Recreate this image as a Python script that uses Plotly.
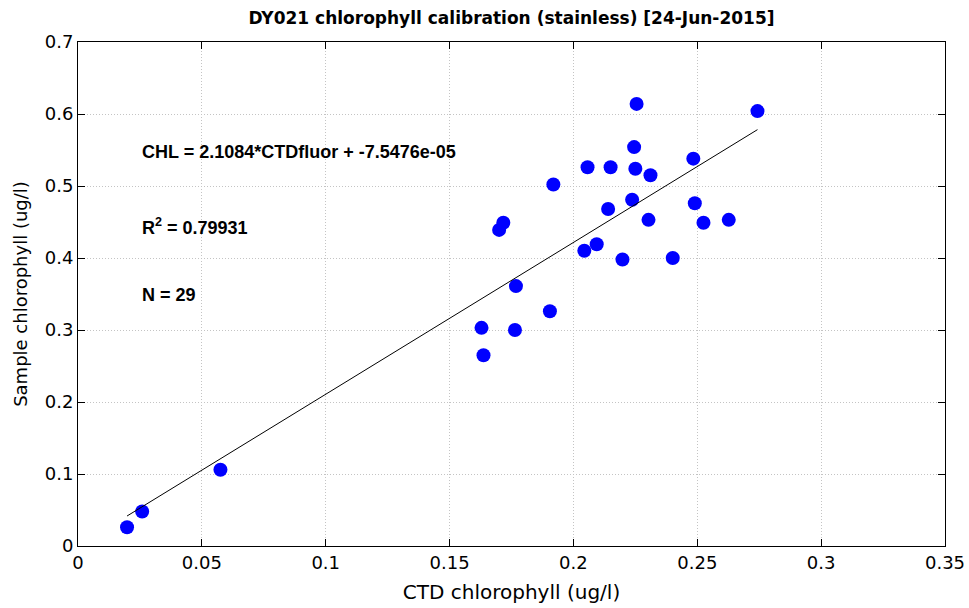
import plotly.graph_objects as go

ctd_chl = [0.2255, 0.2743, 0.2245, 0.2484, 0.2057, 0.2150, 0.2250, 0.2311, 0.1919,
           0.2237, 0.2140, 0.2490, 0.1717, 0.1700, 0.2303, 0.2525, 0.2627, 0.2044,
           0.2094, 0.2198, 0.2401, 0.1768, 0.1905, 0.1629, 0.1764, 0.1637, 0.0575,
           0.0259, 0.0198]
sample_chl = [0.614, 0.604, 0.554, 0.538, 0.526, 0.526, 0.524, 0.515, 0.502,
              0.481, 0.468, 0.476, 0.449, 0.439, 0.453, 0.449, 0.453, 0.410,
              0.419, 0.398, 0.400, 0.361, 0.326, 0.303, 0.300, 0.265, 0.106,
              0.048, 0.026]
slope = 2.1084
intercept = -7.5476e-05
r2 = 0.79931

xfit = [min(ctd_chl), max(ctd_chl)]
yfit = [slope * v + intercept for v in xfit]

font = "DejaVu Sans, Arial, sans-serif"
afont = "Liberation Sans, Arial, sans-serif"

fig = go.Figure()
fig.add_trace(go.Scatter(x=ctd_chl, y=sample_chl, mode="markers",
                         marker=dict(color="#0000FF", size=14, line=dict(width=0)),
                         showlegend=False))
fig.add_trace(go.Scatter(x=xfit, y=yfit, mode="lines",
                         line=dict(color="black", width=1), showlegend=False))

ann = [("CHL = 2.1084*CTDfluor + -7.5476e-05", 0.547),
       ("R<sup>2</sup> = %.5f" % r2, 0.444),
       ("N = %d" % len(ctd_chl), 0.349)]
for t, yv in ann:
    fig.add_annotation(x=0.025, y=yv, text="<b>" + t + "</b>", showarrow=False,
                       xanchor="left", yanchor="middle",
                       font=dict(family=afont, size=18, color="black"))

axis_common = dict(showline=True, linecolor="black", linewidth=1, mirror="allticks",
                   ticks="inside", ticklen=7, tickcolor="black",
                   showgrid=True, gridcolor="#C4C4C4", griddash="1px,2px", gridwidth=1,
                   zeroline=False, automargin=False,
                   tickfont=dict(family=font, size=18, color="black"))

fig.update_xaxes(range=[0, 0.35], tickvals=[0, 0.05, 0.1, 0.15, 0.2, 0.25, 0.3, 0.35],
                 ticktext=["0", "0.05", "0.1", "0.15", "0.2", "0.25", "0.3", "0.35"],
                 title=dict(text="CTD chlorophyll (ug/l)", font=dict(family=font, size=20, color="black"),
                            standoff=13),
                 **axis_common)
fig.update_yaxes(range=[0, 0.7], tickvals=[0, 0.1, 0.2, 0.3, 0.4, 0.5, 0.6, 0.7],
                 ticktext=["0", "0.1", "0.2", "0.3", "0.4", "0.5", "0.6", "0.7"],
                 title=dict(text="Sample chlorophyll (ug/l)", font=dict(family=font, size=18, color="black"),
                            standoff=12),
                 **axis_common)

fig.update_layout(width=969, height=608,
                  margin=dict(l=78, r=24, t=42, b=62),
                  paper_bgcolor="white", plot_bgcolor="white",
                  title=dict(text="<b>DY021 chlorophyll calibration (stainless) [24-Jun-2015]</b>",
                             x=(78 + 945) / 2 / 969, xanchor="center", y=1 - 18 / 608, yanchor="middle",
                             font=dict(family=font, size=17, color="black")))

fig.write_html("out.html", config={"displayModeBar": False},
               post_script="document.body.style.margin='0px';")
